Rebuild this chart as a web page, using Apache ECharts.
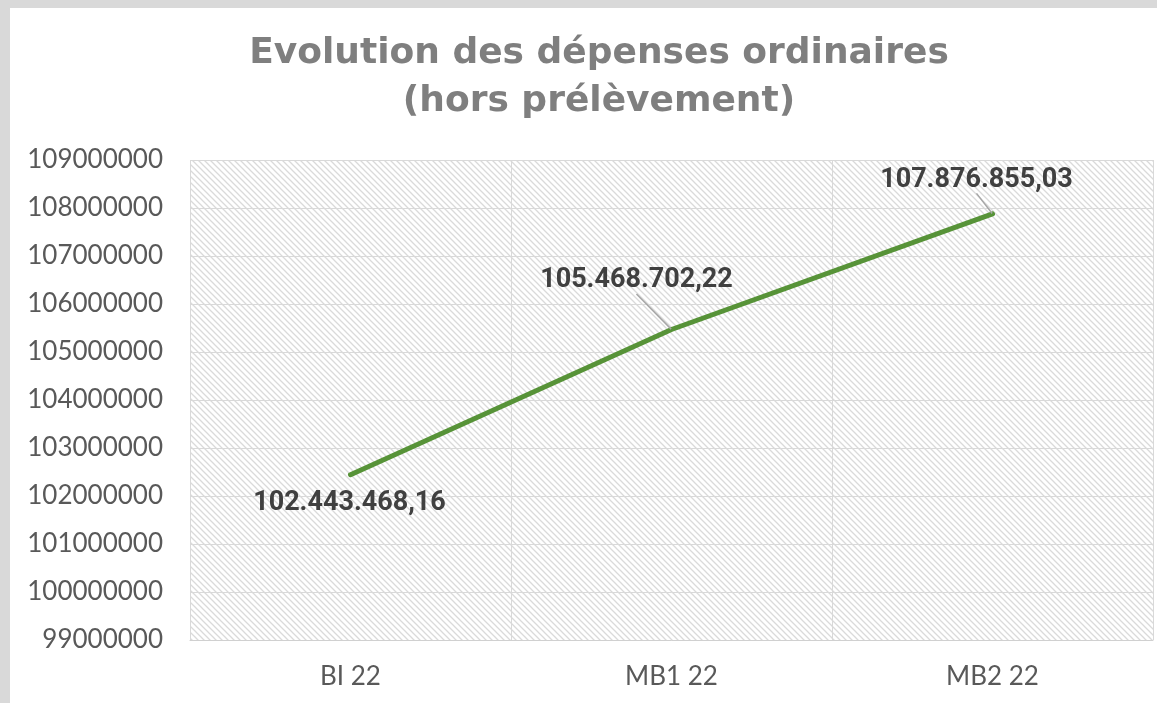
<!DOCTYPE html>
<html>
<head>
<meta charset="utf-8">
<script src="https://cdn.jsdelivr.net/npm/echarts@6/dist/echarts.min.js"></script>
<style>
  html, body { margin: 0; padding: 0; background: #d9d9d9; }
  #chart { position: absolute; left: 10px; top: 8px; width: 1147px; height: 695px; background: #fff; }
</style>
</head>
<body>
<div id="chart"></div>
<script>
// data
var categories = ["BI 22", "MB1 22", "MB2 22"];
var depenses = [102443468.16, 105468702.22, 107876855.03];
var yMin = 99000000;
var yMax = 109000000;
var yStep = 1000000;

// number like 102.443.468,16
function fmt(v) {
  var parts = v.toFixed(2).split(".");
  return parts[0].replace(/\B(?=(\d{3})+(?!\d))/g, ".") + "," + parts[1];
}

// hatch pattern for plot background
var tile = document.createElement("canvas");
tile.width = 6;
tile.height = 6;
var c = tile.getContext("2d");
c.fillStyle = "#ffffff";
c.fillRect(0, 0, 6, 6);
c.strokeStyle = "#dadada";
c.lineWidth = 1.3;
c.beginPath();
c.moveTo(-1, -1); c.lineTo(7, 7);
c.moveTo(-1, 5); c.lineTo(1, 7);
c.moveTo(5, -1); c.lineTo(7, 1);
c.stroke();

// label offsets from the point (dx, dy); first label has no leader line
var labelShift = [[-1, 29], [-35, -49], [-16, -34]];
var seriesData = depenses.map(function (v, i) {
  return i === 0 ? { value: v, labelLine: { show: false } } : v;
});

var myChart = echarts.init(document.getElementById('chart'));
var option = {
  animation: false,
  title: {
    text: "Evolution des dépenses ordinaires\n(hors prélèvement)",
    left: 584,
    top: 17,
    textAlign: "center",
    textStyle: {
      fontFamily: "DejaVu Sans",
      fontWeight: "bold",
      fontSize: 36,
      lineHeight: 48,
      color: "#7f7f7f"
    }
  },
  grid: {
    left: 180,
    top: 152,
    width: 963,
    height: 480,
    show: true,
    borderWidth: 0,
    backgroundColor: { image: tile, repeat: "repeat" }
  },
  xAxis: {
    type: "category",
    boundaryGap: true,
    data: categories,
    axisTick: { show: false },
    axisLine: { lineStyle: { color: "#d0d0d0", width: 1 } },
    splitLine: { show: true, lineStyle: { color: "#d9d9d9", width: 1 } },
    axisLabel: {
      margin: 24,
      fontFamily: "Lato",
      fontSize: 26,
      color: "#595959"
    }
  },
  yAxis: {
    type: "value",
    min: yMin,
    max: yMax,
    interval: yStep,
    axisLine: { show: false },
    axisTick: { show: false },
    splitLine: { lineStyle: { color: "#d9d9d9", width: 1 } },
    axisLabel: {
      margin: 27,
      fontFamily: "Lato",
      fontSize: 26,
      color: "#595959",
      formatter: function (v) { return String(v); }
    }
  },
  series: [
    {
      type: "line",
      data: seriesData,
      symbol: "circle",
      symbolSize: 1,
      showSymbol: true,
      itemStyle: { color: "#579338" },
      lineStyle: { color: "#579338", width: 5, cap: "round" },
      label: {
        show: true,
        position: "inside",
        formatter: function (p) { return fmt(p.value); },
        fontFamily: "Roboto",
        fontWeight: "bold",
        fontSize: 27,
        color: "#404040"
      },
      labelLine: {
        show: true,
        lineStyle: { color: "#a6a6a6", width: 1.5 }
      },
      labelLayout: function (p) {
        var s = labelShift[p.dataIndex];
        return { dx: s[0], dy: s[1] };
      }
    }
  ]
};

myChart.setOption(option);
</script>
</body>
</html>
